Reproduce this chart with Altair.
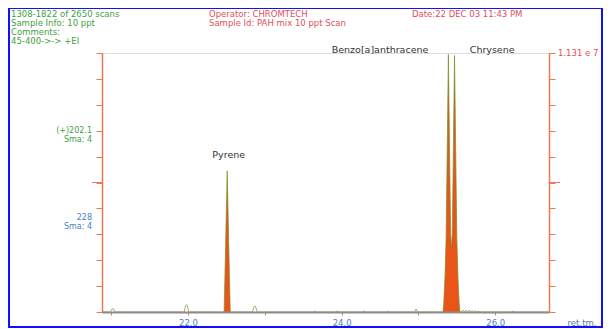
import altair as alt
import pandas as pd

# ---- data (time in min, intensity in millions of counts)
TIMES = [20.88, 20.99, 21.01, 21.02, 21.03, 21.05,
         21.95, 21.97, 21.98, 21.99, 22.01,
         22.47, 22.48, 22.49, 22.50, 22.51, 22.52, 22.53, 22.54, 22.55,
         22.84, 22.86, 22.87, 22.88, 22.90,
         23.64, 23.65, 23.66, 23.93, 23.94, 23.95, 24.28, 24.29, 24.30, 24.59, 24.60, 24.61,
         24.95, 24.97, 24.99,
         25.32, 25.33, 25.345, 25.36, 25.37, 25.38, 25.39, 25.40, 25.41, 25.42,
         25.43, 25.44, 25.45, 25.46, 25.47, 25.48, 25.49, 25.50, 25.515, 25.53, 25.54,
         25.56, 25.58, 25.60, 25.62, 25.64, 25.66, 25.68, 25.70, 25.72, 25.74, 25.76, 25.78, 25.80, 25.82,
         26.22, 26.23, 26.24, 26.70]
INTENSITY = [0, 0, 0.13, 0.14, 0.13, 0,
             0, 0.30, 0.32, 0.30, 0,
             0, 1.5, 3.0, 4.6, 6.16, 4.6, 3.0, 1.5, 0,
             0, 0.24, 0.25, 0.24, 0,
             0, 0.05, 0, 0, 0.05, 0, 0, 0.05, 0, 0, 0.05, 0,
             0, 0.13, 0,
             0, 0.4, 1.5, 3.2, 5.8, 8.5, 11.25, 8.5, 5.8, 3.4,
             2.8, 3.4, 5.8, 8.5, 11.2, 8.5, 5.8, 3.2, 1.5, 0.4, 0,
             0, 0.08, 0, 0.08, 0, 0.08, 0, 0.06, 0, 0.05, 0, 0.04, 0, 0,
             0, 0.05, 0, 0]
PEAK_WINDOWS = [(22.46, 22.56), (25.31, 25.55)]

LABELS = ["Pyrene", "Benzo[a]anthracene", "Chrysene"]
LABEL_T = [22.53, 24.50, 25.96]
LABEL_Y = [6.86, 11.44, 11.44]

X_DOMAIN = [20.88, 26.70]
X_TICKS = [21, 22, 23, 24, 25, 26]
Y_MAX = 11.31
Y_TICKS = [0, 1.131, 2.262, 3.393, 4.524, 5.655, 6.786, 7.917, 9.048, 10.179, 11.31]

HEADER_LEFT = ["1308-1822 of 2650 scans", "Sample Info: 10 ppt", "Comments:", "45-400->->   +EI"]
HEADER_MID = ["Operator: CHROMTECH", "Sample Id: PAH mix 10 ppt  Scan"]
HEADER_RIGHT = ["Date:22 DEC 03   11:43 PM"]

FONT = "DejaVu Sans"
GREEN_T = "#3f9f3f"
RED_T = "#e0505a"
BLUE_T = "#4a7fc0"
ORANGE = "#ee7755"

W, H = 447, 259

df = pd.DataFrame({"t": TIMES, "v": INTENSITY})
df["peak"] = [any(a <= t <= b for a, b in PEAK_WINDOWS) for t in TIMES]
peaks = df[df["peak"]].copy()
lab = pd.DataFrame({"name": LABELS, "t": LABEL_T, "v": LABEL_Y})
one = pd.DataFrame({"k": [0]})

xaxis = alt.Axis(values=X_TICKS, labelExpr="datum.value % 2 == 0 ? format(datum.value, '.1f') : ''",
                 title=None, grid=False, domainColor="#8c8c8c", domainWidth=2, tickColor=ORANGE,
                 tickSize=3, labelColor=BLUE_T, labelFontSize=8.5, labelFont=FONT, labelPadding=3,
                 zindex=1)
xs = alt.Scale(domain=X_DOMAIN, nice=False, zero=False)
ys = alt.Scale(domain=[0, Y_MAX], nice=False, zero=True)

area = alt.Chart(peaks).mark_area(color="#ea5418", opacity=1, interpolate="linear").encode(
    x=alt.X("t:Q", scale=xs, axis=xaxis),
    y=alt.Y("v:Q", scale=ys, axis=alt.Axis(orient="right", values=Y_TICKS, labels=False, title=None,
                                           grid=False, domainColor=ORANGE, domainWidth=1.5,
                                           tickColor=ORANGE, tickSize=6)),
)
line = alt.Chart(df).mark_line(color="#74902a", strokeWidth=0.7, interpolate="linear").encode(
    x=alt.X("t:Q", scale=xs, axis=xaxis),
    y=alt.Y("v:Q", scale=ys, axis=alt.Axis(orient="left", values=Y_TICKS, labels=False, title=None,
                                           grid=False, domainColor=ORANGE, domainWidth=1.5,
                                           tickColor=ORANGE, tickSize=6)),
)
labels = alt.Chart(lab).mark_text(font=FONT, fontSize=9.5, color="#333333", baseline="middle").encode(
    x=alt.X("t:Q", scale=xs, axis=xaxis),
    y=alt.Y("v:Q", scale=ys, axis=None),
    text="name:N",
)
mid_l = alt.Chart(one).mark_rule(color=ORANGE, strokeWidth=1).encode(
    x=alt.value(-10), x2=alt.value(0), y=alt.Y(datum=Y_MAX / 2, scale=ys, axis=None))
mid_r = alt.Chart(one).mark_rule(color=ORANGE, strokeWidth=1).encode(
    x=alt.value(W), x2=alt.value(W + 11), y=alt.Y(datum=Y_MAX / 2, scale=ys, axis=None))


def note(text, x, y, color, align="left", size=9):
    return alt.Chart(one).mark_text(text=text, align=align, baseline="middle", color=color,
                                    fontSize=size, font=FONT).encode(x=alt.value(x), y=alt.value(y))


notes = []
for i, s in enumerate(HEADER_LEFT):
    notes.append(note(s, -91, -39 + i * 9, GREEN_T, size=8.5))
for i, s in enumerate(HEADER_MID):
    notes.append(note(s, 107, -39 + i * 9, RED_T, size=8.5))
notes.append(note(HEADER_RIGHT[0], 310, -39, RED_T, size=8.5))
notes.append(note("(+)202.1", -10, 77.5, GREEN_T, "right", 8))
notes.append(note("Sma: 4", -10, 86.5, GREEN_T, "right", 8))
notes.append(note("228", -10, 165, BLUE_T, "right", 8))
notes.append(note("Sma: 4", -10, 174, BLUE_T, "right", 8))
notes.append(note("1.131 e 7", 456, 0, RED_T, size=8.5))
notes.append(note("ret.tm.", 480, 270, "#5a78a0", "center", 8.5))

border = alt.Chart(one).mark_rect(fill=None, stroke="#1010ff", strokeWidth=2).encode(
    x=alt.value(-93), x2=alt.value(500), y=alt.value(-45), y2=alt.value(274))

chart = alt.layer(area, line, labels, mid_l, mid_r, border, *notes).resolve_scale(
    y="independent"
).properties(
    width=W, height=H,
    autosize=alt.AutoSizeParams(type="none"),
    padding={"left": 94, "top": 45, "right": 54, "bottom": 17},
).configure_view(stroke=None).configure(background="white")

chart.save("out.html", embed_options={"renderer": "svg", "actions": False})
